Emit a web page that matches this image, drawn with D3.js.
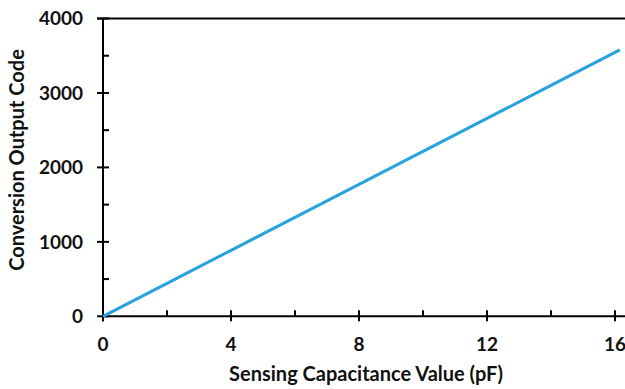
<!DOCTYPE html>
<html>
<head>
<meta charset="utf-8">
<script src="https://cdn.jsdelivr.net/npm/d3@7"></script>
<style>
  body { margin: 0; background: #fff; }
  svg { display: block; }
  text { font-family: Lato, "Open Sans", sans-serif; font-weight: bold; fill: #111; }
</style>
</head>
<body>
<svg id="chart" width="625" height="389"></svg>
<script>
// capacitance (pF) and output code
var capValues = [0, 2, 4, 6, 8, 10, 12, 14, 16, 16.15];
var codeValues = [0, 443, 886, 1329, 1772, 2215, 2658, 3101, 3544, 3578];
var xTicks = [0, 4, 8, 12, 16];
var xMinor = [2, 6, 10, 14];
var yTicks = [0, 1000, 2000, 3000, 4000];
var yMinor = [500, 1500, 2500, 3500];

var svg = d3.select("#chart");
var plotLeft = 103, plotTop = 18.5, plotBottom = 316.3;

var x = d3.scaleLinear().domain([0, 16]).range([plotLeft, 615]);
var y = d3.scaleLinear().domain([0, 4000]).range([plotBottom, plotTop]);

// frame: top border runs to the edge
svg.append("line")
    .attr("x1", plotLeft - 6).attr("x2", 625)
    .attr("y1", y(4000)).attr("y2", y(4000))
    .attr("stroke", "#000").attr("stroke-width", 2);

// x axis
var gx = svg.append("g").attr("transform", "translate(0," + plotBottom + ")");
gx.append("line").attr("x1", plotLeft).attr("x2", 625).attr("stroke", "#000").attr("stroke-width", 2);
gx.selectAll("line.major").data(xTicks).enter().append("line")
    .attr("class", "major")
    .attr("x1", function(d){return x(d);}).attr("x2", function(d){return x(d);})
    .attr("y1", -6).attr("y2", 5)
    .attr("stroke", "#000").attr("stroke-width", 2);
gx.selectAll("line.minor").data(xMinor).enter().append("line")
    .attr("class", "minor")
    .attr("x1", function(d){return x(d);}).attr("x2", function(d){return x(d);})
    .attr("y1", -6).attr("y2", 0)
    .attr("stroke", "#000").attr("stroke-width", 2);
gx.selectAll("text").data(xTicks).enter().append("text")
    .attr("x", function(d){return x(d);})
    .attr("y", 35)
    .attr("text-anchor", "middle")
    .style("font-size", "19px")
    .text(function(d){return d;});

// y axis
var gy = svg.append("g").attr("transform", "translate(" + plotLeft + ",0)");
gy.append("line").attr("y1", plotTop).attr("y2", plotBottom + 5).attr("stroke", "#000").attr("stroke-width", 2);
gy.selectAll("line.major").data(yTicks).enter().append("line")
    .attr("class", "major")
    .attr("y1", function(d){return y(d);}).attr("y2", function(d){return y(d);})
    .attr("x1", -6).attr("x2", 6)
    .attr("stroke", "#000").attr("stroke-width", 2);
gy.selectAll("line.minor").data(yMinor).enter().append("line")
    .attr("class", "minor")
    .attr("y1", function(d){return y(d);}).attr("y2", function(d){return y(d);})
    .attr("x1", 0).attr("x2", 6)
    .attr("stroke", "#000").attr("stroke-width", 2);
gy.selectAll("text").data(yTicks).enter().append("text")
    .attr("x", -20)
    .attr("y", function(d){return y(d);})
    .attr("dy", "0.35em")
    .attr("text-anchor", "end")
    .style("font-size", "19px")
    .text(function(d){return d;});

// axis titles
svg.append("text")
    .attr("x", 366).attr("y", 381)
    .attr("text-anchor", "middle")
    .style("font-size", "20px")
    .text("Sensing Capacitance Value (pF)");
svg.append("text")
    .attr("transform", "translate(24,160) rotate(-90)")
    .attr("text-anchor", "middle")
    .style("font-size", "20px")
    .text("Conversion Output Code");

// data line
var line = d3.line()
    .x(function(d){return x(d[0]);})
    .y(function(d){return y(d[1]);});
svg.append("path")
    .datum(d3.zip(capValues, codeValues))
    .attr("d", line)
    .attr("fill", "none")
    .attr("stroke", "#27a2dd")
    .attr("stroke-width", 3);
</script>
</body>
</html>
